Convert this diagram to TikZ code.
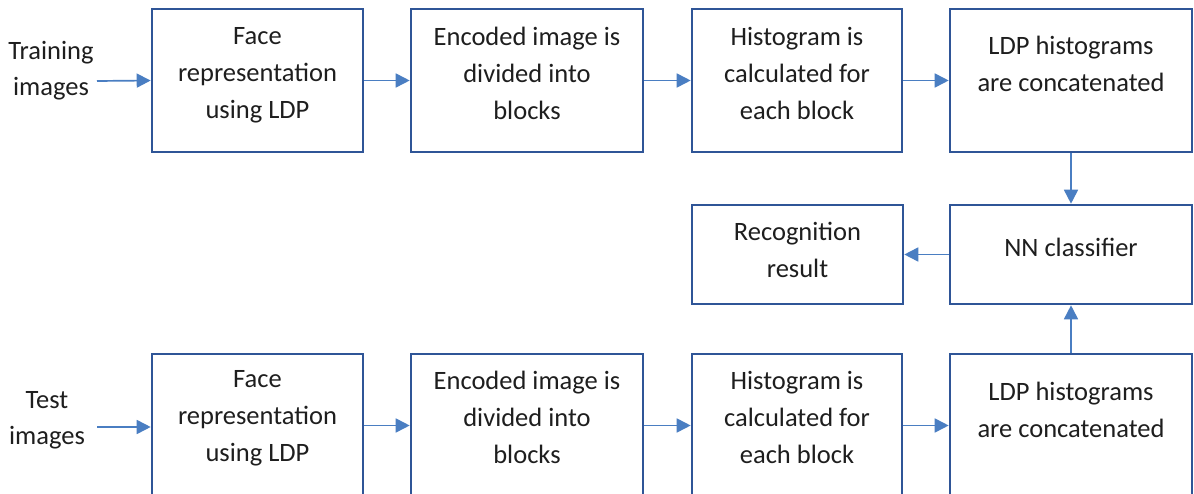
\documentclass[tikz,border=0pt]{standalone}
\usepackage{fontspec}
\setmainfont{Carlito}
\usetikzlibrary{arrows.meta}
\definecolor{boxblue}{HTML}{2F5597}
\definecolor{arrblue}{HTML}{4A7EC2}
\definecolor{txtgray}{HTML}{1E1E1E}
\begin{document}
\begin{tikzpicture}[x=1pt,y=-1pt,
  box/.style={draw=boxblue,line width=2.6pt,fill=white,inner sep=0pt},
  txt/.style={align=center,text=txtgray,font=\fontsize{26.5}{37}\selectfont,inner sep=0pt},
  conn/.style={draw=arrblue,line width=1.7pt,-{Triangle[length=14pt,width=14pt]}}]
\useasboundingbox (0,0) rectangle (1194,494);
\clip (0,0) rectangle (1194,494);
% top row
\node[box,minimum width=211pt,minimum height=143pt] (a1) at (257.5,80.5) {};
\node[box,minimum width=232pt,minimum height=143pt] (a2) at (527,80.5) {};
\node[box,minimum width=210pt,minimum height=143pt] (a3) at (797,80.5) {};
\node[box,minimum width=242pt,minimum height=143pt] (a4) at (1071,80.5) {};
% middle row
\node[box,minimum width=211pt,minimum height=99pt] (rr) at (797.5,254.5) {};
\node[box,minimum width=242pt,minimum height=99pt] (nn) at (1071,254.5) {};
% bottom row
\node[box,minimum width=211pt,minimum height=143pt] (b1) at (257.5,425.5) {};
\node[box,minimum width=232pt,minimum height=143pt] (b2) at (527,425.5) {};
\node[box,minimum width=210pt,minimum height=143pt] (b3) at (797,425.5) {};
\node[box,minimum width=242pt,minimum height=143pt] (b4) at (1071,425.5) {};
% texts
\node[txt] (ta1) at (257.5,75) {Face\\representation\\using LDP};
\node[txt] (ta2) at (527,73) {Encoded image is\\divided into\\blocks};
\node[txt] (ta3) at (797,73) {Histogram is\\calculated for\\each block};
\node[txt] (ta4) at (1071,64) {LDP histograms\\are concatenated};
\node[txt] (trr) at (797.5,250) {Recognition\\result};
\node[txt] (tnn) at (1071,247) {NN classifier};
\node[txt] (tb1) at (257.5,418) {Face\\representation\\using LDP};
\node[txt] (tb2) at (527,417) {Encoded image is\\divided into\\blocks};
\node[txt] (tb3) at (797,417) {Histogram is\\calculated for\\each block};
\node[txt] (tb4) at (1071,410) {LDP histograms\\are concatenated};
\node[txt,font=\fontsize{26.5}{36}\selectfont] (train) at (51,71) {Training\\images};
\node[txt,font=\fontsize{26.5}{36}\selectfont] (test) at (47,420) {Test\\images};
% connectors
\coordinate (ain) at (97,81);
\coordinate (bin) at (97,427);
\draw[conn] (ain) -- (a1.west);
\draw[conn] (a1.east) -- (a2.west);
\draw[conn] (a2.east) -- (a3.west);
\draw[conn] (a3.east) -- (a4.west);
\draw[conn] (a4.south) -- (nn.north);
\draw[conn] (nn.west) -- (rr.east);
\draw[conn] (b4.north) -- (nn.south);
\draw[conn] (bin) -- (b1.west |- bin);
\draw[conn] (b1.east) -- (b2.west);
\draw[conn] (b2.east) -- (b3.west);
\draw[conn] (b3.east) -- (b4.west);
\end{tikzpicture}
\end{document}
